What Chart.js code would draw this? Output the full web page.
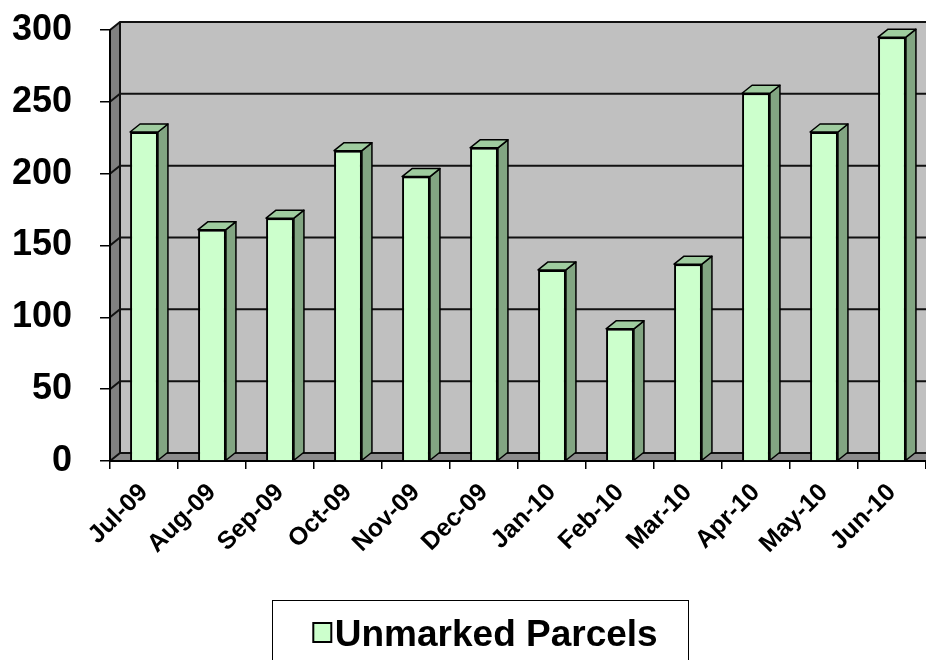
<!DOCTYPE html>
<html>
<head>
<meta charset="utf-8">
<script src="https://cdn.jsdelivr.net/npm/chart.js@4/dist/chart.umd.min.js"></script>
<style>
  html, body { margin: 0; padding: 0; background: #fff; }
</style>
</head>
<body>
<canvas id="myChart" width="926" height="660"></canvas>
<script>
const labels = [
    'Jul-09', 'Aug-09', 'Sep-09', 'Oct-09', 'Nov-09', 'Dec-09',
    'Jan-10', 'Feb-10', 'Mar-10', 'Apr-10', 'May-10', 'Jun-10',
];
const parcels = [229, 161, 169, 216, 198, 218, 133, 92, 137, 256, 229, 295];
const yTicks = [0, 50, 100, 150, 200, 250, 300];

const font = 'Arial, "Liberation Sans", sans-serif';
const depthX = 10;
const depthY = -8;
const fill = '#ccffcc';

// 3d look: walls, floor, gridlines on the back wall, bar tops and sides
const walls = {
    id: 'walls',
    beforeDraw(chart) {
        const {ctx, chartArea: a, scales} = chart;
        const y = scales.y;
        ctx.save();
        // floor
        ctx.fillStyle = '#8c8c8c';
        ctx.beginPath();
        ctx.moveTo(a.left, a.bottom);
        ctx.lineTo(a.right, a.bottom);
        ctx.lineTo(a.right + depthX, a.bottom + depthY);
        ctx.lineTo(a.left + depthX, a.bottom + depthY);
        ctx.closePath();
        ctx.fill();
        // back wall
        ctx.fillStyle = '#c0c0c0';
        ctx.fillRect(a.left + depthX, a.top + depthY, a.right - a.left, a.bottom - a.top);
        // left wall
        ctx.fillStyle = '#808080';
        ctx.beginPath();
        ctx.moveTo(a.left, a.bottom);
        ctx.lineTo(a.left, a.top);
        ctx.lineTo(a.left + depthX, a.top + depthY);
        ctx.lineTo(a.left + depthX, a.bottom + depthY);
        ctx.closePath();
        ctx.fill();
        // grid lines
        ctx.strokeStyle = '#111';
        ctx.lineWidth = 2;
        yTicks.forEach((v) => {
            const py = y.getPixelForValue(v);
            ctx.beginPath();
            ctx.moveTo(a.left, py);
            ctx.lineTo(a.left + depthX, py + depthY);
            ctx.lineTo(a.right + depthX, py + depthY);
            ctx.stroke();
        });
        ctx.beginPath();
        ctx.moveTo(a.left + depthX, a.top + depthY);
        ctx.lineTo(a.left + depthX, a.bottom + depthY);
        ctx.stroke();
        ctx.restore();
    },
    afterDatasetsDraw(chart) {
        const {ctx} = chart;
        const meta = chart.getDatasetMeta(0);
        ctx.save();
        ctx.strokeStyle = '#000';
        ctx.lineWidth = 1.5;
        ctx.lineJoin = 'round';
        meta.data.forEach((bar) => {
            const {x, y, base, width} = bar.getProps(['x', 'y', 'base', 'width'], true);
            const l = x - width / 2;
            const r = x + width / 2;
            // side
            ctx.fillStyle = '#82a582';
            ctx.beginPath();
            ctx.moveTo(r, y);
            ctx.lineTo(r + depthX, y + depthY);
            ctx.lineTo(r + depthX, base + depthY);
            ctx.lineTo(r, base);
            ctx.closePath();
            ctx.fill();
            ctx.stroke();
            // top
            ctx.fillStyle = '#9fcc9f';
            ctx.beginPath();
            ctx.moveTo(l, y);
            ctx.lineTo(l + depthX, y + depthY);
            ctx.lineTo(r + depthX, y + depthY);
            ctx.lineTo(r, y);
            ctx.closePath();
            ctx.fill();
            ctx.stroke();
        });
        ctx.restore();
    },
    afterLayout(chart) {
        // legend sits a bit right of centre
        chart.legend.left += 45;
    },
    afterDraw(chart) {
        const {ctx, legend} = chart;
        const hb = legend.legendHitBoxes[0];
        if (!hb) return;
        ctx.save();
        // legend frame
        ctx.strokeStyle = '#000';
        ctx.lineWidth = 1;
        ctx.strokeRect(Math.round(hb.left) - 41 + 0.5, legend.top - 17 + 0.5, 416, 80);
        // legend swatch, close to the text like in the original
        ctx.fillStyle = fill;
        ctx.lineWidth = 2;
        ctx.fillRect(hb.left, legend.top + 6, 18, 19);
        ctx.strokeRect(hb.left, legend.top + 6, 18, 19);
        ctx.restore();
    }
};

const data = {
    labels: labels,
    datasets: [{
        label: 'Unmarked Parcels',
        data: parcels,
        backgroundColor: fill,
        borderColor: '#000',
        borderWidth: 2,
        barPercentage: 0.41,
        categoryPercentage: 1,
    }]
};

const config = {
    type: 'bar',
    data: data,
    plugins: [walls],
    options: {
        responsive: false,
        animation: false,
        layout: { padding: { top: 30, right: 0, left: 0, bottom: -4 } },
        plugins: {
            tooltip: { enabled: false },
            legend: {
                position: 'bottom',
                labels: {
                    color: '#000',
                    font: { family: font, size: 37, weight: 'bold' },
                    boxWidth: 3,
                    boxHeight: 18,
                    padding: 0,
                    generateLabels: (chart) =>
                        Chart.defaults.plugins.legend.labels.generateLabels(chart).map((item) => ({
                            ...item,
                            fillStyle: 'rgba(0,0,0,0)',
                            strokeStyle: 'rgba(0,0,0,0)',
                            lineWidth: 0,
                        })),
                }
            }
        },
        scales: {
            x: {
                afterFit: (scale) => { scale.height = 156; },
                grid: { drawOnChartArea: false, color: '#000', lineWidth: 1.5, tickLength: 8 },
                border: { color: '#000', width: 2 },
                ticks: {
                    color: '#000',
                    minRotation: 45,
                    maxRotation: 45,
                    padding: 9,
                    font: { family: font, size: 25, weight: 'bold' },
                }
            },
            y: {
                min: 0,
                max: 300,
                afterFit: (scale) => {
                    scale.width = 110;
                    scale.paddingTop = 0;
                    scale.paddingBottom = 0;
                },
                grid: { drawOnChartArea: false, color: '#000', lineWidth: 1.5, tickLength: 10 },
                border: { color: '#000', width: 2 },
                ticks: {
                    stepSize: 50,
                    color: '#000',
                    padding: 28,
                    font: { family: font, size: 36, weight: 'bold' },
                }
            }
        }
    }
};

const myChart = new Chart(
    document.getElementById('myChart'),
    config
);
</script>
</body>
</html>
